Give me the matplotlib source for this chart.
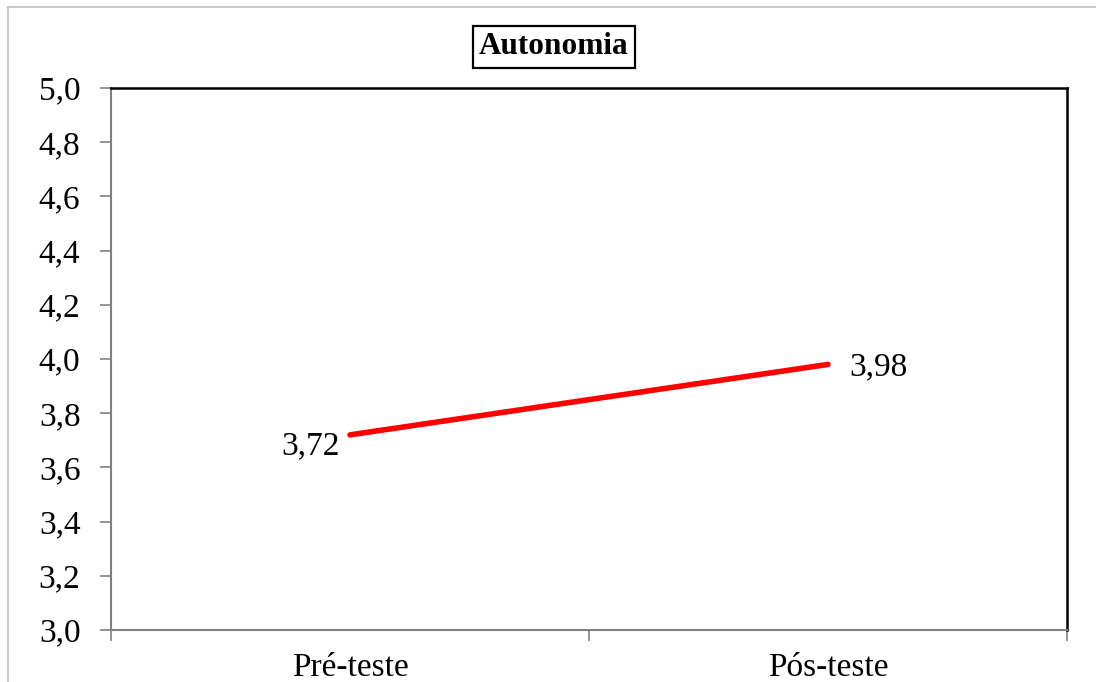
import matplotlib.pyplot as plt
from matplotlib.lines import Line2D
from matplotlib.ticker import FuncFormatter, FixedLocator

# data
categories = ['Pré-teste', 'Pós-teste']
values = [3.72, 3.98]
title = 'Autonomia'

plt.rcParams['font.family'] = ['Liberation Serif', 'DejaVu Serif']

fig = plt.figure(figsize=(10.96, 6.82), dpi=100)
ax = fig.add_axes([111 / 1096, 52 / 682, 956 / 1096, 542 / 682])

x = list(range(len(categories)))
ax.plot(x, values, color='#FF0000', linewidth=4, solid_capstyle='round')

# data labels: first one to the left, second to the right
ax.annotate('3,72', (x[0], values[0]), xytext=(-7, -8), textcoords='offset points',
            ha='right', va='center', fontsize=24)
ax.annotate('3,98', (x[1], values[1]), xytext=(15, -2), textcoords='offset points',
            ha='left', va='center', fontsize=24)

ax.set_xlim(-0.5, len(categories) - 0.5)
ax.set_ylim(3.0, 5.0)
ax.set_yticks([3.0 + 0.2 * i for i in range(11)])
ax.yaxis.set_major_formatter(FuncFormatter(lambda v, p: f'{v:.1f}'.replace('.', ',')))

ax.set_xticks(x)
ax.set_xticklabels(categories)
ax.xaxis.set_minor_locator(FixedLocator([-0.5, 0.5, 1.5]))
ax.tick_params(axis='x', which='major', length=0, pad=16, labelsize=24)
ax.tick_params(axis='x', which='minor', length=8, width=1.2, color='#808080', direction='out')
ax.tick_params(axis='y', length=8, width=1.2, color='#808080', direction='out', pad=14, labelsize=24)

for side in ['top', 'right']:
    ax.spines[side].set_color('black')
    ax.spines[side].set_linewidth(1.8)
for side in ['left', 'bottom']:
    ax.spines[side].set_color('#808080')
    ax.spines[side].set_linewidth(1.5)

fig.text(554 / 1096, 1 - 47 / 682, title, ha='center', va='center', fontsize=22.5,
         fontweight='bold',
         bbox=dict(boxstyle='square,pad=0.2', facecolor='white', edgecolor='black', linewidth=1.6))

# outer chart frame (only left and top visible)
fig.add_artist(Line2D([8 / 1096, 8 / 1096], [0, 1 - 7 / 682], color='#BFBFBF', linewidth=1.2))
fig.add_artist(Line2D([8 / 1096, 1], [1 - 7 / 682, 1 - 7 / 682], color='#BFBFBF', linewidth=1.2))

fig.savefig('out.png', dpi=100)
